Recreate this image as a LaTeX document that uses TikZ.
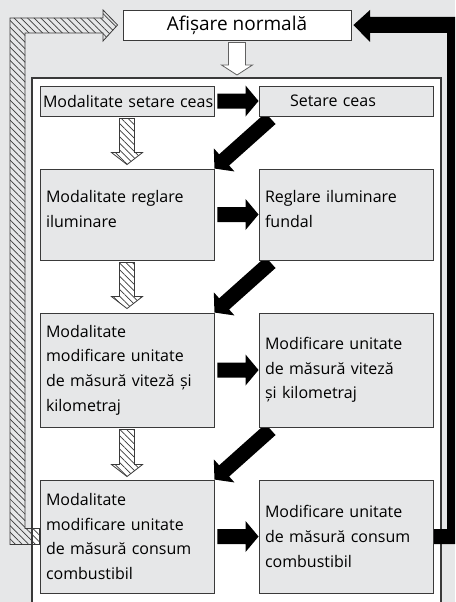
\documentclass[tikz,border=0pt]{standalone}
\usepackage{fontspec}
\setmainfont{Open Sans}
\usetikzlibrary{calc,patterns.meta,backgrounds}

\definecolor{paper}{HTML}{E6E7E8}
\definecolor{edge}{HTML}{3A3A3A}

\tikzset{
  box/.style={rectangle, draw=edge, line width=0.9pt, fill=paper, text width=162pt,
    align=left, inner xsep=6pt, inner ysep=0pt, font=\fontsize{16}{24.7}\selectfont},
  topbox/.style={rectangle, draw=edge, line width=0.9pt, fill=white, minimum width=228pt,
    minimum height=30pt, inner sep=0pt, font=\fontsize{19}{22}\selectfont},
  panel/.style={draw=edge, line width=1.1pt, fill=white},
  % fat arrow outline: half shaft / half head / head length
  fatarrow/.style args={#1/#2/#3}{to path={
      ($(\tikztostart)!#1!90:(\tikztotarget)$) --
      ($(\tikztotarget)!#3!(\tikztostart)!#1!-90:(\tikztostart)$) --
      ($(\tikztotarget)!#3!(\tikztostart)!#2!-90:(\tikztostart)$) --
      (\tikztotarget) --
      ($(\tikztotarget)!#3!(\tikztostart)!#2!90:(\tikztostart)$) --
      ($(\tikztotarget)!#3!(\tikztostart)!#1!90:(\tikztostart)$) --
      ($(\tikztostart)!#1!-90:(\tikztotarget)$) -- cycle}},
  solidarrow/.style={fill=black, draw=none, fatarrow=7.5pt/15.5pt/13pt},
  hatched/.style={pattern={Lines[angle=-45,distance=4.7pt,line width=0.7pt]},
    pattern color=edge, draw=edge, line width=0.8pt},
  hatcharrow/.style={hatched, fatarrow=7.5pt/15.5pt/12pt},
  hollowarrow/.style={fill=white, draw=edge!80, line width=0.8pt, fatarrow=8.5pt/15.5pt/10pt}
}

\begin{document}
\begin{tikzpicture}[x=1pt, y=-1pt]
\useasboundingbox (0,0) rectangle (455,602);

\node (normal) [topbox] at (237,25) {Afișare normală};
\coordinate (entry) at (237,75);

\node (m1) [box, minimum height=30pt] at (127,101) {\hspace*{-3pt}\mbox{Modalitate setare ceas}};
\node (s1) [box, minimum height=30pt] at (346,101) {\hspace*{25pt}Setare ceas};
\node (m2) [box, minimum height=91pt] at (127,214.5) {Modalitate reglare\\iluminare\\[-14pt]\mbox{}};
\node (s2) [box, minimum height=91pt] at (346,214.5) {Reglare iluminare\\fundal\\[-14pt]\mbox{}};
\node (m3) [box, minimum height=114pt] at (127,370) {Modalitate\\modificare unitate\\de măsură viteză și\\kilometraj};
\node (s3) [box, minimum height=114pt] at (346,370) {Modificare unitate\\de măsură viteză\\și kilometraj};
\node (m4) [box, minimum height=113pt] at (127,536.5) {Modalitate\\modificare unitate\\de măsură consum\\combustibil};
\node (s4) [box, minimum height=113pt] at (346,536.5) {Modificare unitate\\de măsură consum\\combustibil};

\begin{scope}[on background layer]
\fill[paper] (0,0) rectangle (455,602);
\draw[panel] (32,603) |- (441,78) -- (441,603);

\draw[hollowarrow] ([yshift=-2pt]normal.south) to (entry);

% mode -> setting
\draw[solidarrow] ([xshift=3pt]m1.east) to (s1.west);
\draw[solidarrow] ([xshift=3pt]m2.east) to (s2.west);
\draw[solidarrow] ([xshift=3pt]m3.east) to (s3.west);
\draw[solidarrow] ([xshift=3pt]m4.east) to (s4.west);

% setting -> next mode
\draw[solidarrow] ([xshift=12pt,yshift=-2pt]s1.south west) to (m2.north east);
\draw[solidarrow] ([xshift=12pt,yshift=-2pt]s2.south west) to (m3.north east);
\draw[solidarrow] ([xshift=12pt,yshift=-2pt]s3.south west) to (m4.north east);

% mode -> next mode
\draw[hatcharrow] ([yshift=-2pt]m1.south) to ([yshift=4pt]m2.north);
\draw[hatcharrow] ([yshift=-2pt]m2.south) to ([yshift=4pt]m3.north);
\draw[hatcharrow] ([yshift=-2pt]m3.south) to ([yshift=3pt]m4.north);

% back to normal display
\draw[hatched] ([yshift=8pt]m4.west) -- (25,528.5) -- (25,33) -- (103,33) -- (103,41)
  -- ([xshift=-5pt]normal.west) -- (103,10) -- (103,18) -- (10,18) -- (10,544.5)
  -- ([yshift=-8pt]m4.west) -- cycle;
\fill[black] ([yshift=7.5pt]s4.east) -- (447,529) -- (447,33) -- (370,33) -- (370,42)
  -- ([xshift=2pt]normal.east) -- (370,10) -- (370,17) -- (455,17) -- (455,544)
  -- ([yshift=-7.5pt]s4.east) -- cycle;
\end{scope}
\end{tikzpicture}
\end{document}
